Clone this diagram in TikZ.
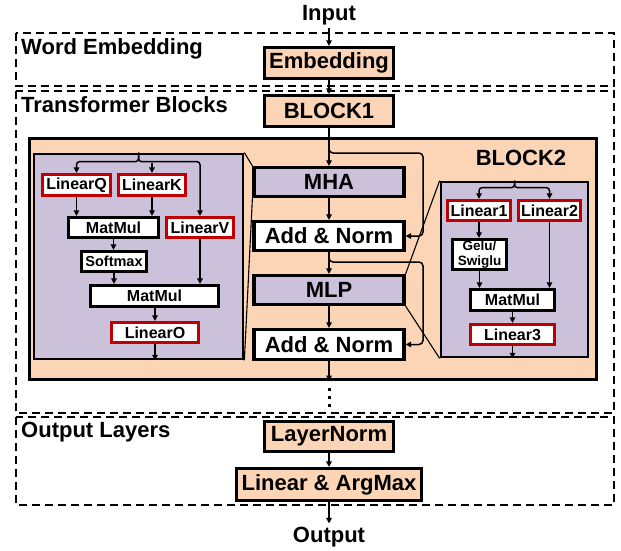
\documentclass[tikz,border=0pt]{standalone}
\usepackage{fontspec}
\setmainfont{Liberation Sans}
\usetikzlibrary{arrows.meta,calc}
\definecolor{peach}{HTML}{FBD5B5}
\definecolor{lav}{HTML}{CCC1DA}
\definecolor{redline}{HTML}{C00000}

\begin{document}
\begin{tikzpicture}[x=1pt,y=-1pt,
  bigtxt/.style={font=\fontsize{22}{24}\selectfont\bfseries},
  midtxt/.style={font=\fontsize{16}{18}\selectfont\bfseries},
  box/.style={draw=black, line width=3.2pt, inner sep=0pt, align=center},
  peachbox/.style={box, fill=peach, bigtxt},
  lavbox/.style={box, fill=lav, bigtxt},
  whitebox/.style={box, fill=white, bigtxt},
  opbox/.style={draw=black, line width=2.7pt, fill=white, inner sep=0pt, align=center, midtxt},
  linbox/.style={opbox, draw=redline},
  detail/.style={draw=black, line width=2.7pt, fill=lav, inner sep=0pt},
  region/.style={draw=black, line width=1.9pt, dash pattern=on 8pt off 5pt},
  conn/.style={line width=1.5pt, -{Triangle[length=5.5pt,width=5.5pt]}},
  link/.style={line width=1.1pt},
  label/.style={bigtxt, inner sep=0pt}
]
\useasboundingbox (0,0) rectangle (621,550);

% dashed stage regions
\draw[region] (16,33) rectangle (614,86);
\draw[region] (16,91) rectangle (614,413);
\draw[region] (16,417) rectangle (614,505);

\node[label, anchor=base west] (lwe) at (21,54) {Word Embedding};
\node[label, anchor=base west] (ltb) at (21,112) {Transformer Blocks};
\node[label, anchor=base west] (lol) at (21,437) {Output Layers};

% input / output
\node[label, anchor=base, inner sep=3pt] (in) at (329,20) {Input};
\node[label, anchor=base, inner sep=3pt] (out) at (329,542) {Output};

% top-level stages
\node[peachbox, minimum width=129pt, minimum height=31pt] (emb) at (329,63) {Embedding};
\node[peachbox, minimum width=129pt, minimum height=31pt] (blk1) at (329,111) {BLOCK1};

% expanded block
\node[box, fill=peach, minimum width=567pt, minimum height=241pt] (blk2) at (313,259) {};
\node[label, anchor=base] (blk2t) at (521,165) {BLOCK2};

\node[lavbox, minimum width=150pt, minimum height=29pt] (mha) at (329,182) {MHA};
\node[whitebox, minimum width=150pt, minimum height=29pt] (an1) at (329,236) {Add \& Norm};
\node[lavbox, minimum width=150pt, minimum height=29pt] (mlp) at (329,290) {MLP};
\node[whitebox, minimum width=150pt, minimum height=30pt] (an2) at (329,344.5) {Add \& Norm};

% attention detail
\node[detail, minimum width=209pt, minimum height=205pt] (mhad) at (138.5,256.5) {};
\node[linbox, minimum width=68.5pt, minimum height=21.5pt] (lq) at (76.5,185) {LinearQ};
\node[linbox, minimum width=67.5pt, minimum height=21.5pt] (lk) at (152,185) {LinearK};
\node[opbox, minimum width=90.5pt, minimum height=20.5pt] (mm1) at (113.5,227.5) {MatMul};
\node[linbox, minimum width=67.5pt, minimum height=20.5pt] (lv) at (200,227.5) {LinearV};
\node[opbox, minimum width=65.5pt, minimum height=20.5pt, font=\fontsize{14.5}{16}\selectfont\bfseries] (sm) at (114,261.5) {Softmax};
\node[opbox, minimum width=128.5pt, minimum height=21.5pt] (mm2) at (154.5,296) {MatMul};
\node[linbox, minimum width=87.5pt, minimum height=20.5pt] (lo) at (155,332.5) {LinearO};

% MLP detail
\node[detail, minimum width=147pt, minimum height=175pt] (mlpd) at (514.5,269.5) {};
\node[linbox, minimum width=63.5pt, minimum height=20.5pt] (l1) at (479,210.5) {Linear1};
\node[linbox, minimum width=62.5pt, minimum height=20.5pt] (l2) at (549.5,210.5) {Linear2};
\node[opbox, minimum width=54.5pt, minimum height=30.5pt, font=\fontsize{13.5}{15}\selectfont\bfseries] (gelu) at (479.5,254.5) {Gelu/\\Swiglu};
\node[opbox, minimum width=84.5pt, minimum height=21.5pt] (mm3) at (512.5,300) {MatMul};
\node[linbox, minimum width=84.5pt, minimum height=20.5pt] (l3) at (512.5,334.5) {Linear3};

% output stages
\node[peachbox, minimum width=129pt, minimum height=30pt] (ln) at (329,436.5) {LayerNorm};
\node[peachbox, minimum width=185pt, minimum height=32pt] (lam) at (329,484.5) {Linear \& ArgMax};

% zoom links from blocks to their details
\draw[link] (mhad.north east) -- (mha.north west);
\draw[link] (mhad.south east) -- (mha.south west);
\draw[link] (mlp.north east) -- (mlpd.north west);
\draw[link] (mlp.south east) -- (mlpd.south west);

% main data path
\draw[conn] (in) -- (emb);
\draw[conn] (emb) -- (blk1);
\draw[conn] (blk1) -- (mha);
\draw[conn] (mha) -- (an1);
\draw[conn] (an1) -- (mlp);
\draw[conn] (mlp) -- (an2);
\draw[conn] (an2.south) -- (an2.south |- blk2.south);
\draw[line width=3pt, dash pattern=on 3pt off 5pt] (blk2.south -| an2.south) ++(0,7) -- ++(0,20);
\draw[conn] (ln) -- (lam);
\draw[conn] (lam) -- (out);

% residual connections
\draw[conn, rounded corners=4pt] (mha.north |- 0,147) -- (mha.north |- 0,153) -- (423,153) -- (423,0 |- an1.east) -- (an1.east);
\draw[conn, rounded corners=4pt] (an1.south |- 0,256) -- (an1.south |- 0,262) -- (423,262) -- (423,0 |- an2.east) -- (an2.east);

% attention internals
\draw[conn, rounded corners=3pt] (mhad.north) -- ++(0,9) -| (lq.north);
\draw[conn, rounded corners=3pt] (mhad.north) -- ++(0,9) -| (lv.north);
\draw[conn] ([yshift=10pt]lk.north) -- (lk.north);
\draw[conn] (lq.south) -- (lq.south |- mm1.north);
\draw[conn] (lk.south) -- (lk.south |- mm1.north);
\draw[conn] (mm1.south) -- (mm1.south |- sm.north);
\draw[conn] (sm.south) -- (sm.south |- mm2.north);
\draw[conn] (lv.south) -- (lv.south |- mm2.north);
\draw[conn] (lo.north |- mm2.south) -- (lo.north);
\draw[conn] (lo.south) -- (lo.south |- mhad.south);

% MLP internals
\draw[conn, rounded corners=3pt] (mlpd.north) -- ++(0,7) -| (l1.north);
\draw[conn, rounded corners=3pt] (mlpd.north) -- ++(0,7) -| (l2.north);
\draw[conn] (l1.south) -- (l1.south |- gelu.north);
\draw[conn] (gelu.south) -- (gelu.south |- mm3.north);
\draw[conn] (l2.south) -- (l2.south |- mm3.north);
\draw[conn] (mm3.south) -- (l3.north);
\draw[conn] (l3.south) -- (l3.south |- mlpd.south);
\end{tikzpicture}
\end{document}
